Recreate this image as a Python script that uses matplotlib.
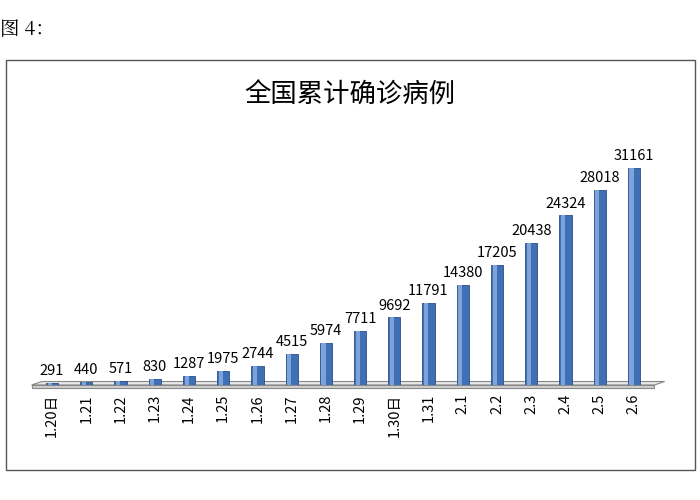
import matplotlib.pyplot as plt
from matplotlib.patches import Polygon, Rectangle

plt.rcParams["font.family"] = ["Noto Sans CJK SC", "DejaVu Sans"]

dates = ["1.20日", "1.21", "1.22", "1.23", "1.24", "1.25", "1.26", "1.27", "1.28",
         "1.29", "1.30日", "1.31", "2.1", "2.2", "2.3", "2.4", "2.5", "2.6"]
cases = [291, 440, 571, 830, 1287, 1975, 2744, 4515, 5974, 7711, 9692, 11791,
         14380, 17205, 20438, 24324, 28018, 31161]

fig = plt.figure(figsize=(7, 5), dpi=100)
fig.patch.set_facecolor("white")

# outer chart border
fig.patches.append(Rectangle((0.008, 0.06), 0.985, 0.82, transform=fig.transFigure,
                             fill=False, edgecolor="#555555", lw=1))
fig.text(0.0, 0.94, "图 4：", fontsize=14, family=["Noto Serif CJK SC", "Noto Sans CJK SC", "DejaVu Sans"],
         va="center")
fig.text(0.5, 0.81, "全国累计确诊病例", fontsize=19, ha="center", va="center")

ax = fig.add_axes([0.05, 0.23, 0.88, 0.474])
ax.set_xlim(-0.5, len(cases) - 0.5)
ax.set_ylim(0, 34000)
ax.axis("off")

# floor
floor = Polygon([(-0.6, 0), (len(cases) - 0.4, 0), (len(cases) - 0.1, 500),
                 (-0.3, 500)], closed=True, facecolor="#e8e8e8",
                edgecolor="#888888", lw=0.8, zorder=1, clip_on=False)
ax.add_patch(floor)
ax.add_patch(Rectangle((-0.6, -500), len(cases) + 0.2, 500, facecolor="#cfcfcf",
                       edgecolor="#888888", lw=0.8, zorder=1, clip_on=False))

x = range(len(cases))
ax.bar(x, cases, width=0.36, color="#3f6fb5", edgecolor="#2a4f8a", lw=0.6, zorder=3)
ax.bar([i - 0.07 for i in x], cases, width=0.12, color="#7ea3d8", lw=0, zorder=4)
for i, v in zip(x, cases):
    ax.text(i, v + 700, str(v), ha="center", va="bottom", fontsize=10.5, zorder=5)

for i, d in zip(x, dates):
    ax.text(i, -1300, d, rotation=90, ha="center", va="top", fontsize=10.5)

fig.savefig("out.png", dpi=100)
